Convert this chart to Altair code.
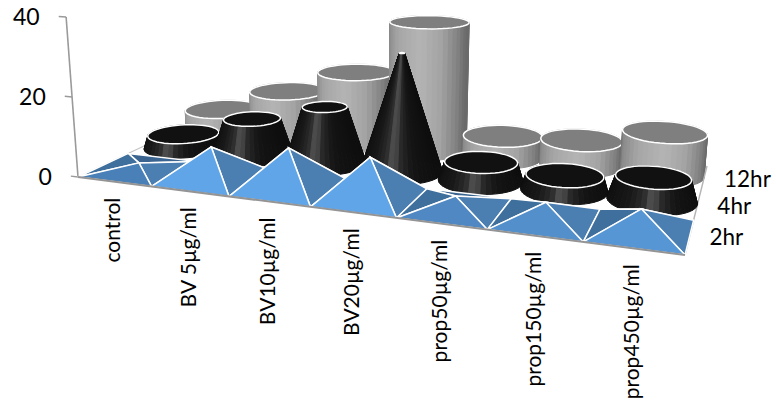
import math
import altair as alt
import numpy as np

categories = ["control", "BV 5µg/ml", "BV10µg/ml", "BV20µg/ml", "prop50µg/ml", "prop150µg/ml", "prop450µg/ml"]
series_names = ["2hr", "4hr", "12hr"]
values_2hr = [1.6, 7.8, 9.7, 9.6, 2.8, 3.8, 4.8]
values_4hr = [3.5, 9.6, 14.7, 30.4, 4.6, 3.6, 5.4]
values_12hr = [5.3, 12.4, 19.5, 35.0, 5.6, 6.6, 10.7]
axis_ticks = [0, 20, 40]
CONE_TOP = 32.4

# Perspective of the floor: corner pixels of the category/series plane
C00, C10, C11, C01 = (78, 177), (685, 255), (707, 166), (210, 115)


def floor_matrix():
    (x0, y0), (x1, y1), (x2, y2), (x3, y3) = C00, C10, C11, C01
    dx1, dx2, sx = x1 - x2, x3 - x2, x0 - x1 + x2 - x3
    dy1, dy2, sy = y1 - y2, y3 - y2, y0 - y1 + y2 - y3
    det = dx1 * dy2 - dx2 * dy1
    g = (sx * dy2 - dx2 * sy) / det
    h = (dx1 * sy - sx * dy1) / det
    return np.array([
        [x1 - x0 + g * x1, x3 - x0 + h * x3, x0],
        [y1 - y0 + g * y1, y3 - y0 + h * y3, y0],
        [g, h, 1.0],
    ])


H = floor_matrix()
N_CAT, N_SER = len(categories), len(series_names)
UNIT_PX = 4.0
LEAN_X, LEAN_D = 375.0, 4000.0


def project(u, v, z=0.0):
    px, py, w = H @ np.array([u / N_CAT, v / N_SER, 1.0])
    x, y = px / w, py / w
    rise = z * UNIT_PX / w
    return [float(x + (x - LEAN_X) * rise / LEAN_D), float(y - rise)]


def hex_mix(a, b, t):
    t = max(0.0, min(1.0, t))
    ca = [int(a[i:i + 2], 16) for i in (1, 3, 5)]
    cb = [int(b[i:i + 2], 16) for i in (1, 3, 5)]
    return "#" + "".join(f"{round(p + (q - p) * t):02x}" for p, q in zip(ca, cb))


def ramp(stops, t):
    for (t0, c0), (t1, c1) in zip(stops, stops[1:]):
        if t <= t1:
            return hex_mix(c0, c1, (t - t0) / (t1 - t0))
    return stops[-1][1]


GRAY_SIDE = [(0, "#6c6c6c"), (0.05, "#8a8a8a"), (0.25, "#a6a6a6"), (0.55, "#b4b4b4"),
             (0.8, "#a2a2a2"), (0.95, "#808080"), (1, "#6a6a6a")]
BLACK_SIDE = [(0, "#0e0e0e"), (0.3, "#191919"), (0.46, "#2c2c2c"), (0.56, "#565656"),
              (0.64, "#2c2c2c"), (0.8, "#151515"), (1, "#0e0e0e")]

features = []


def polygon(points, fill, stroke="transparent", width=0.0):
    ring = list(points) + [points[0]]
    features.append({"type": "Feature", "geometry": {"type": "Polygon", "coordinates": [ring]},
                     "properties": {"fill": fill, "stroke": stroke, "sw": width}})


def line(points, stroke, width):
    features.append({"type": "Feature", "geometry": {"type": "LineString", "coordinates": list(points)},
                     "properties": {"fill": "transparent", "stroke": stroke, "sw": width}})


def round_column(i, row, value, top_ratio, side_stops, top_fill, seg=48, radius=0.5):
    uc, vc = i + 0.5, row + 0.5
    strips = []
    for k in range(seg):
        a0, a1 = 2 * math.pi * k / seg, 2 * math.pi * (k + 1) / seg
        mid = (a0 + a1) / 2
        strips.append((math.sin(mid), a0, a1, mid))
    strips.sort(key=lambda s: -s[0])
    r_top = radius * top_ratio
    for _, a0, a1, mid in strips:
        quad = [
            project(uc + radius * math.cos(a0), vc + radius * math.sin(a0)),
            project(uc + radius * math.cos(a1), vc + radius * math.sin(a1)),
            project(uc + r_top * math.cos(a1), vc + r_top * math.sin(a1), value),
            project(uc + r_top * math.cos(a0), vc + r_top * math.sin(a0), value),
        ]
        colour = ramp(side_stops, (1 + math.cos(mid)) / 2)
        polygon(quad, colour, colour, 1.0)
    rim = [project(uc + r_top * math.cos(2 * math.pi * k / seg),
                   vc + r_top * math.sin(2 * math.pi * k / seg), value) for k in range(seg)]
    polygon(rim, top_fill, "#ffffff", 1.5)


def pyramid(i, value):
    a = project(i, 0)
    b = project(i + 1, 0)
    c = project(i + 1, 1)
    d = project(i, 1)
    apex = project(i + 0.5, 0.5, value)
    polygon([d, c, apex], "#3b6590", "#ffffff", 1.5)
    polygon([a, d, apex], "#3f6f9c", "#ffffff", 1.5)
    polygon([b, c, apex], "#4b7eb1", "#ffffff", 1.5)
    front = hex_mix("#4a80b8", "#60a5e8", (value - 1.6) / 5.5)
    polygon([a, b, apex], front, "#ffffff", 1.5)


# Walls and floor edges
line([project(0, 0), project(0, 0, axis_ticks[-1])], "#9a9a9a", 1.6)
line([project(0, 0), project(0, N_SER)], "#c4c4c4", 1.2)
for t in axis_ticks:
    line([project(-0.1, 0, t), project(0, 0, t)], "#9a9a9a", 1.4)

# Series are painted from the back row forward, categories left to right
for i, val in enumerate(values_12hr):
    round_column(i, 2, val, 1.0, GRAY_SIDE, "#7f7f7f")
line([project(N_CAT, 0), project(N_CAT, N_SER)], "#b4b4b4", 1.4)
for i, val in enumerate(values_4hr):
    round_column(i, 1, val, 1 - val / CONE_TOP, BLACK_SIDE, "#111111")
for i, val in enumerate(values_2hr):
    pyramid(i, val)
line([project(0, 0), project(N_CAT, 0)], "#949494", 2.0)

category_rows = []
for i, name in enumerate(categories):
    x, y = project(i + 0.5, 0)
    category_rows.append({"label": name, "px": x, "py": y + 16})
tick_rows = []
for t in axis_ticks:
    x, y = project(-0.1, 0, t)
    tick_rows.append({"label": str(t), "px": x - 19, "py": y + 2})
series_rows = []
for j, name in enumerate(series_names):
    x, y = project(N_CAT, j + 0.5)
    series_rows.append({"label": name, "px": x + 20, "py": y + 1.5})

shapes = alt.Chart(alt.Data(values=features)).mark_geoshape().encode(
    fill=alt.Fill("properties.fill:N", scale=None),
    stroke=alt.Stroke("properties.stroke:N", scale=None),
    strokeWidth=alt.StrokeWidth("properties.sw:Q", scale=None),
).project(type="identity", scale=1, translate=[0, 0])


def text_layer(rows, size, **mark):
    return alt.Chart(alt.Data(values=rows)).mark_text(font="Lato", fontSize=size, color="#000000", **mark).encode(
        x=alt.X("px:Q", scale=None, axis=None),
        y=alt.Y("py:Q", scale=None, axis=None),
        text="label:N",
    )


chart = alt.layer(
    shapes,
    text_layer(category_rows, 21, angle=270, align="right", baseline="middle"),
    text_layer(tick_rows, 23, align="right", baseline="middle"),
    text_layer(series_rows, 22.5, align="left", baseline="middle"),
).properties(width=776, height=405, padding=0, autosize=alt.AutoSizeParams(type="none")).configure_view(stroke=None)

chart.save("out.html", embed_options={"renderer": "svg", "actions": False})
